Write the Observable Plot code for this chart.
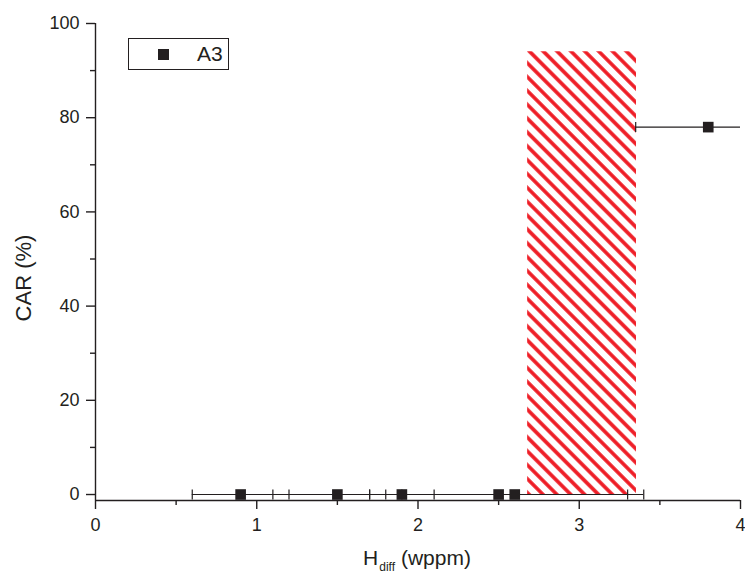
<!DOCTYPE html>
<html><head><meta charset="utf-8">
<script src="https://cdn.jsdelivr.net/npm/d3@7"></script>
<script src="https://cdn.jsdelivr.net/npm/@observablehq/plot@0.6"></script>
<style>
body{margin:0;background:#fff;}
#wrap{position:relative;width:745px;height:575px;}
.legend{position:absolute;left:128px;top:38px;width:99px;height:30px;border:1px solid #231f20;background:#fff;font-family:"Liberation Sans",Arial,sans-serif;color:#231f20;}
.legend .sw{position:absolute;left:29px;top:10px;width:11px;height:11px;background:#231f20;}
.legend .lb{position:absolute;left:68px;top:4px;font-size:21px;line-height:21px;}
</style>
</head><body><div id="wrap"></div>
<script>
// Data
const hDiff = [0.9, 1.5, 1.9, 2.5, 2.6, 3.8];
const car = [0, 0, 0, 0, 0, 78];
const hErr = [0.3, 0.4, 0.2, 0.8, 0.8, 0.45];
const seriesName = "A3";
const bandX = [2.68, 3.355];
const bandY = [0, 94];
const xMajor = [0, 1, 2, 3, 4];
const xMinor = [0.5, 1.5, 2.5, 3.5];
const yMajor = [0, 20, 40, 60, 80, 100];
const yMinor = [10, 30, 50, 70, 90];
const xDomain = [0, 4];
const yDomain = [-1.27, 100];

const ink = "#231f20";
const red = "#ee1c25";
const rows = hDiff.map((x, i) => ({x, y: car[i], e: hErr[i]}));
const band = [{x1: bandX[0], x2: bandX[1], y1: bandY[0], y2: bandY[1]}];
const cap = {draw(ctx) { ctx.moveTo(0, -5); ctx.lineTo(0, 5); }};

const plot = Plot.plot({
  width: 745, height: 575,
  marginLeft: 95, marginRight: 5, marginTop: 23, marginBottom: 75,
  style: {fontFamily: '"Liberation Sans", Arial, sans-serif', fontSize: "18px", color: ink, background: "#fff", overflow: "visible"},
  x: {domain: xDomain},
  y: {domain: yDomain},
  marks: [
    Plot.rect(band, {x1: "x1", x2: "x2", y1: "y1", y2: "y2", fill: "url(#hatch)"}),
    Plot.ruleY(rows, {x1: d => d.x - d.e, x2: d => d.x + d.e, y: "y", stroke: ink, strokeWidth: 1.2, clip: true}),
    Plot.dot(rows, {x: d => d.x - d.e, y: "y", symbol: cap, fill: "none", stroke: ink, strokeWidth: 1.2, clip: true}),
    Plot.dot(rows, {x: d => d.x + d.e, y: "y", symbol: cap, fill: "none", stroke: ink, strokeWidth: 1.2, clip: true}),
    Plot.dot(rows, {x: "x", y: "y", symbol: "square", r: 6, fill: ink, stroke: "none"}),
    Plot.ruleX([xDomain[0]], {stroke: ink, strokeWidth: 1.4}),
    Plot.ruleY([yDomain[0]], {stroke: ink, strokeWidth: 1.4}),
    Plot.axisX(xMajor, {tickSize: 9, tickPadding: 9, label: null, stroke: ink, strokeWidth: 1.4, fill: ink, tickFormat: d => String(d)}),
    Plot.axisX(xMinor, {tickSize: 5, label: null, stroke: ink, strokeWidth: 1.4, tickFormat: () => ""}),
    Plot.axisY(yMajor, {tickSize: 9, tickPadding: 7, label: null, stroke: ink, strokeWidth: 1.4, fill: ink, tickFormat: d => String(d)}),
    Plot.axisY(yMinor, {tickSize: 5, label: null, stroke: ink, strokeWidth: 1.4, tickFormat: () => ""})
  ]
});

const svg = d3.select(plot);
const defs = svg.insert("defs", ":first-child");
const pat = defs.append("pattern")
  .attr("id", "hatch")
  .attr("patternUnits", "userSpaceOnUse")
  .attr("width", 9.8).attr("height", 9.8)
  .attr("patternTransform", "rotate(45)");
pat.append("line")
  .attr("x1", -1).attr("x2", 10.8).attr("y1", 4.9).attr("y2", 4.9)
  .attr("stroke", red).attr("stroke-width", 3.6);

svg.append("text")
  .attr("transform", "translate(31,278) rotate(-90)")
  .attr("text-anchor", "middle")
  .attr("font-size", 22)
  .attr("fill", ink)
  .text("CAR (%)");

const xt = svg.append("text")
  .attr("x", 417).attr("y", 565)
  .attr("text-anchor", "middle")
  .attr("font-size", 21)
  .attr("fill", ink);
xt.append("tspan").text("H");
xt.append("tspan").attr("font-size", 12).attr("dy", 6).attr("dx", 1).text("diff");
xt.append("tspan").attr("dy", -6).text(" (wppm)");

const wrap = document.getElementById("wrap");
wrap.appendChild(plot);
const lg = document.createElement("div");
lg.className = "legend";
lg.innerHTML = '<div class="sw"></div><div class="lb"></div>';
lg.querySelector(".lb").textContent = seriesName;
wrap.appendChild(lg);
</script>
</body></html>
